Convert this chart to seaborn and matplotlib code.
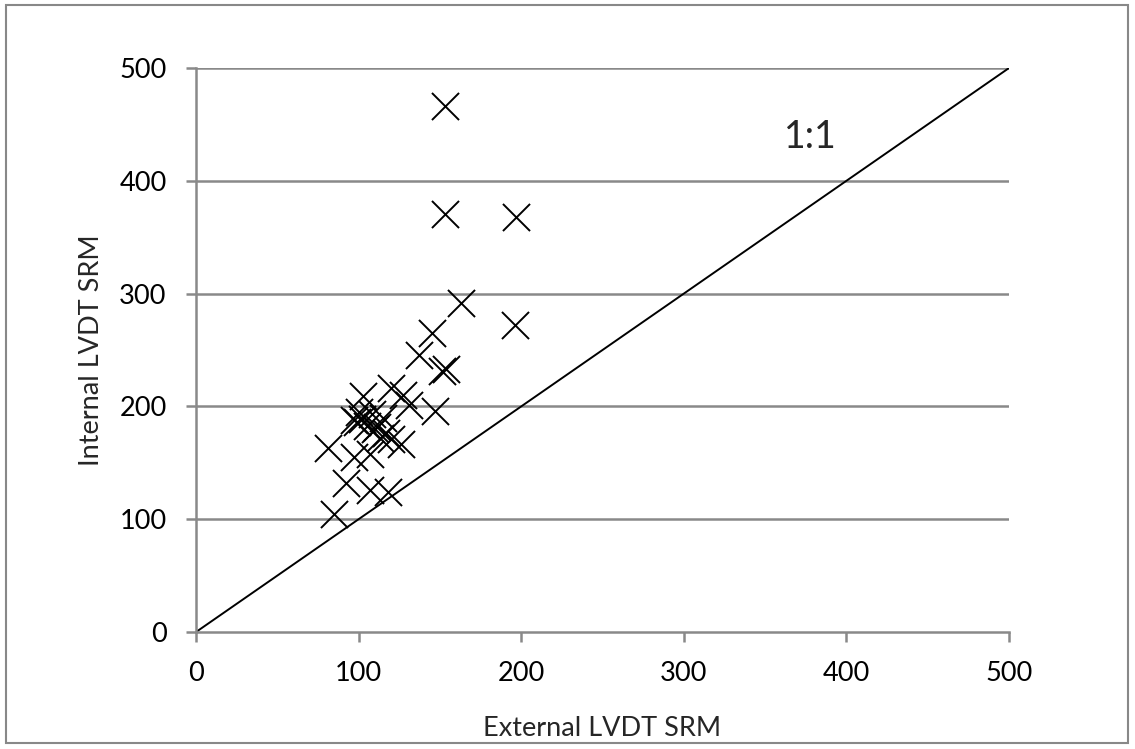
import matplotlib
matplotlib.use("Agg")
import matplotlib.pyplot as plt
from matplotlib.patches import Rectangle
import seaborn as sns
import pandas as pd

# External vs internal LVDT secant resilient modulus
external_srm = [153, 153, 197, 196, 163, 145, 137, 151, 154, 120, 131, 147,
                103, 97, 99, 102, 105, 110, 111, 117, 113, 126, 120, 81,
                97, 107, 92, 107, 118, 85, 127, 108, 115, 100]
internal_srm = [466, 371, 368, 272, 292, 265, 246, 231, 233, 216, 201, 196,
                209, 188, 186, 189, 183, 180, 182, 176, 172, 167, 171, 163,
                155, 158, 132, 126, 124, 105, 210, 193, 190, 195]

axis_ticks = [0, 100, 200, 300, 400, 500]
one_to_one = [0, 500]

sns.set_theme(style="white")
plt.rcParams["font.family"] = ["Lato", "DejaVu Sans"]

fig = plt.figure(figsize=(11.35, 7.49), dpi=100)
ax = fig.add_axes([0.1727, 0.1562, 0.7163, 0.7530])

grid_color = "#898989"
for t in axis_ticks[1:]:
    ax.axhline(t, color=grid_color, lw=1.8, zorder=0)

ax.plot(one_to_one, one_to_one, color="black", lw=1.4, zorder=1)

df = pd.DataFrame({"External LVDT SRM": external_srm,
                   "Internal LVDT SRM": internal_srm})
sns.scatterplot(data=df, x="External LVDT SRM", y="Internal LVDT SRM",
                marker="x", s=380, color="black", linewidth=1.4,
                ax=ax, zorder=3, legend=False)

ax.set_xlim(0, 500)
ax.set_ylim(0, 500)
ax.set_xticks(axis_ticks)
ax.set_yticks(axis_ticks)
ax.tick_params(axis="both", labelsize=19.5, colors="black", length=7.2,
               width=1.8, direction="out", color=grid_color, pad=14,
               bottom=True, left=True)
for side in ["top", "right"]:
    ax.spines[side].set_visible(False)
for side in ["left", "bottom"]:
    ax.spines[side].set_color(grid_color)
    ax.spines[side].set_linewidth(1.8)

ax.set_xlabel("External LVDT SRM", fontsize=19.5, labelpad=21)
ax.set_ylabel("Internal LVDT SRM", fontsize=19.5, labelpad=11)

ax.text(378, 439, "1:1", fontsize=27, ha="center", va="center")

fig.patches.append(Rectangle((6 / 1135, 1 - 743 / 749), 1122 / 1135, 738 / 749,
                             transform=fig.transFigure, fill=False,
                             edgecolor="#888888", lw=1.5))

fig.savefig("out.png", dpi=100)
